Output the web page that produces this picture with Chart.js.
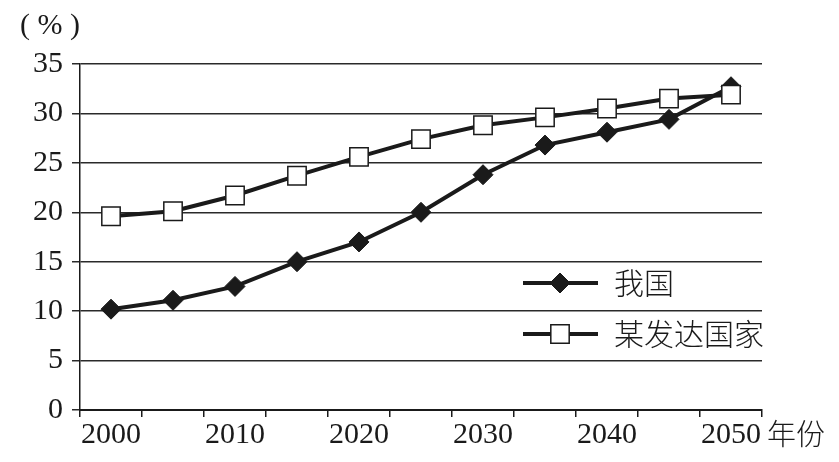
<!DOCTYPE html>
<html>
<head>
<meta charset="utf-8">
<script src="https://cdn.jsdelivr.net/npm/chart.js@4"></script>
<style>
html,body{margin:0;padding:0;background:#fff;}
#c{display:block;}
</style>
</head>
<body>
<canvas id="c" width="839" height="462"></canvas>
<script>
const categories = ['2000','2005','2010','2015','2020','2025','2030','2035','2040','2045','2050'];
const xTickLabels = ['2000','','2010','','2020','','2030','','2040','','2050'];
const chinaValues = [10.2, 11.1, 12.5, 15.0, 17.0, 20.0, 23.8, 26.8, 28.1, 29.4, 32.7];
const developedValues = [19.6, 20.1, 21.7, 23.7, 25.6, 27.4, 28.8, 29.6, 30.5, 31.5, 31.9];
const seriesNames = ['我国', '某发达国家'];
const yUnit = '( % )';
const xUnit = '年份';

const serif = '"Liberation Serif", "DejaVu Serif", serif';
const cjk = '"Noto Sans CJK SC", "Noto Sans", sans-serif';
const ink = '#1a1a1a';

const extras = {
  id: 'extras',
  afterDraw(chart) {
    const ctx = chart.ctx;
    const area = chart.chartArea;
    ctx.save();
    ctx.fillStyle = ink;
    // unit labels
    ctx.font = '30px ' + serif;
    ctx.textBaseline = 'middle';
    ctx.textAlign = 'left';
    ctx.fillText(yUnit, 20, 26);
    ctx.font = '300 29px ' + cjk;
    ctx.fillText(xUnit, area.right + 5, 434);
    // legend
    const rows = [283, 334];
    const lx0 = 523, lx1 = 598, mx = 560, tx = 614;
    chart.data.datasets.forEach((ds) => {
      const y = rows[ds.legendRow];
      ctx.strokeStyle = ds.borderColor;
      ctx.lineWidth = ds.borderWidth;
      ctx.beginPath();
      ctx.moveTo(lx0, y);
      ctx.lineTo(lx1, y);
      ctx.stroke();
      ctx.fillStyle = ds.pointBackgroundColor;
      ctx.strokeStyle = ds.pointBorderColor;
      ctx.lineWidth = ds.pointBorderWidth;
      Chart.helpers.drawPoint(ctx, {pointStyle: ds.pointStyle, rotation: 0, radius: ds.pointRadius, borderWidth: ds.pointBorderWidth}, mx, y);
      ctx.fillStyle = ink;
      ctx.font = '300 30px ' + cjk;
      ctx.textAlign = 'left';
      ctx.textBaseline = 'middle';
      ctx.fillText(ds.label, tx, y);
    });
    ctx.restore();
  }
};

new Chart(document.getElementById('c'), {
  type: 'line',
  data: {
    labels: categories,
    datasets: [
      {
        label: seriesNames[1],
        data: developedValues,
        legendRow: 1,
        order: 0,
        borderColor: ink,
        borderWidth: 4,
        pointStyle: 'rect',
        pointRadius: 13,
        pointHoverRadius: 13,
        pointBackgroundColor: '#ffffff',
        pointBorderColor: ink,
        pointBorderWidth: 1.5,
        tension: 0
      },
      {
        label: seriesNames[0],
        data: chinaValues,
        legendRow: 0,
        order: 1,
        borderColor: ink,
        borderWidth: 4,
        pointStyle: 'rectRot',
        pointRadius: 10,
        pointHoverRadius: 10,
        pointBackgroundColor: ink,
        pointBorderColor: ink,
        pointBorderWidth: 1,
        tension: 0
      }
    ]
  },
  options: {
    responsive: false,
    animation: false,
    devicePixelRatio: 1,
    layout: { padding: { top: 64, right: 77, left: 0, bottom: 0 } },
    plugins: {
      legend: { display: false },
      tooltip: { enabled: false },
      title: { display: false }
    },
    scales: {
      x: {
        type: 'category',
        offset: true,
        afterFit(scale) { scale.height = 52; },
        grid: {
          offset: true,
          drawOnChartArea: false,
          drawTicks: true,
          tickLength: 7,
          color: ink,
          lineWidth: 1.5
        },
        border: { display: true, color: ink, width: 2 },
        ticks: {
          autoSkip: false,
          maxRotation: 0,
          minRotation: 0,
          padding: 0,
          color: ink,
          font: { family: serif, size: 30 },
          callback(v, i) { return xTickLabels[i]; }
        }
      },
      y: {
        min: 0,
        max: 35,
        afterFit(scale) { scale.width = 80; },
        grid: {
          drawOnChartArea: true,
          drawTicks: true,
          tickLength: 8,
          color: '#2a2a2a',
          lineWidth: 1.5
        },
        border: { display: true, color: ink, width: 1.5 },
        ticks: {
          stepSize: 5,
          padding: 9,
          color: ink,
          font: { family: serif, size: 30 }
        }
      }
    }
  },
  plugins: [extras]
});
</script>
</body>
</html>
